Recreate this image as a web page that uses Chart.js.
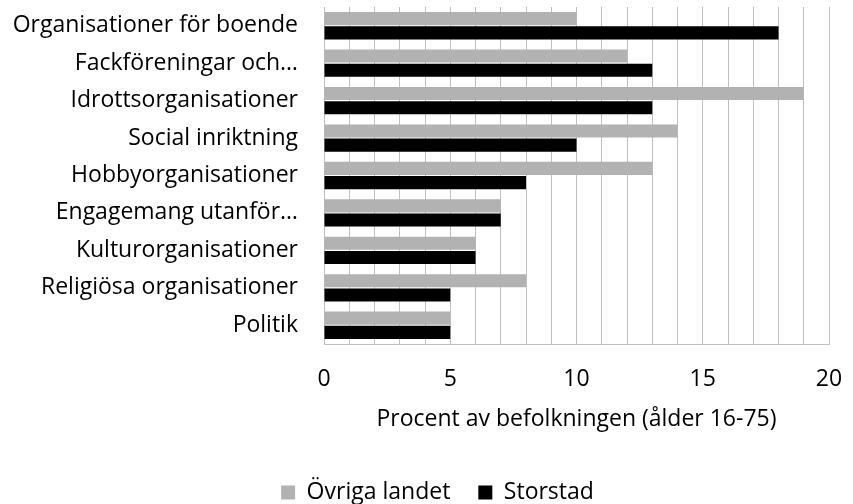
<!DOCTYPE html>
<html><head><meta charset="utf-8">
<script src="https://cdn.jsdelivr.net/npm/chart.js@4/dist/chart.umd.min.js"></script>
<style>html,body{margin:0;padding:0;background:#fff}#w{width:853px;height:504px;position:relative}</style>
</head><body><div id="w"><canvas id="c"></canvas></div>
<script>
const categories = ["Organisationer för boende","Fackföreningar och…","Idrottsorganisationer","Social inriktning","Hobbyorganisationer","Engagemang utanför…","Kulturorganisationer","Religiösa organisationer","Politik"];
const ovrigaLandet = [10,12,19,14,13,7,6,8,5];
const storstad = [18,13,13,10,8,7,6,5,5];
const xTickLabels = [0,5,10,15,20];
const FONT = "'Open Sans', sans-serif";
Chart.defaults.font.family = FONT;
Chart.defaults.color = '#000';
const FS = 23;
new Chart(document.getElementById('c'), {
  type: 'bar',
  data: { labels: categories, datasets: [
    { label: 'Övriga landet', data: ovrigaLandet, backgroundColor: '#b2b2b2' },
    { label: 'Storstad', data: storstad, backgroundColor: '#000000' }
  ]},
  options: {
    indexAxis: 'y', responsive: true, maintainAspectRatio: false, animation: false,
    datasets: { bar: { categoryPercentage: 0.76, barPercentage: 0.92 } },
    layout: { padding: { left: 0, right: -22, top: 7, bottom: -10 } },
    plugins: {
      tooltip: { enabled: false },
      legend: { position: 'bottom', labels: { font: { size: FS }, boxWidth: 14, boxHeight: 14, padding: 28 } }
    },
    scales: {
      x: { min: 0, max: 20,
        ticks: { stepSize: 1, autoSkip: false, maxRotation: 0, padding: 22, font: { size: FS },
          callback: v => xTickLabels.includes(v) ? String(v) : '' },
        grid: { color: '#bfbfbf', drawTicks: false, lineWidth: 1 },
        border: { color: '#bfbfbf' },
        title: { display: true, text: 'Procent av befolkningen (ålder 16-75)', font: { size: FS }, padding: { top: 4, bottom: 20 } },
        afterFit: s => { s.height = 109; s.paddingLeft = 0; s.paddingRight = 24; } },
      y: { ticks: { padding: 26, font: { size: FS }, autoSkip: false },
        grid: { display: false, drawTicks: false },
        border: { color: '#bfbfbf' },
        afterFit: s => { s.width = 324; s.paddingTop = 0; s.paddingBottom = 0; } }
    }
  }
});
</script></body></html>
